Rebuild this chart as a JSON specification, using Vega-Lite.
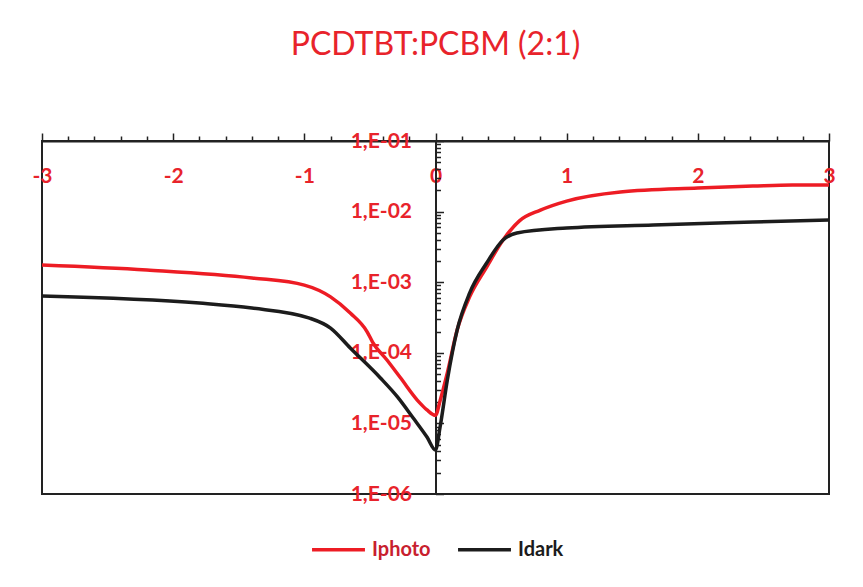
{
  "$schema": "https://vega.github.io/schema/vega-lite/v6.json",
  "autosize": "none",
  "width": 787,
  "height": 353,
  "padding": {"left": 42, "top": 141, "right": 34, "bottom": 93},
  "background": "white",
  "config": {
    "view": {"stroke": "#222222", "strokeWidth": 2},
    "font": "Lato"
  },
  "title": {
    "text": "PCDTBT:PCBM (2:1)",
    "fontSize": 32,
    "font": "Lato",
    "fontWeight": "normal",
    "color": "#e8232b",
    "anchor": "middle",
    "offset": 68
  },
  "data": {
    "values": [
      {"series": "Iphoto", "V": -3, "I": 1.75e-3},
      {"series": "Iphoto", "V": -2.2, "I": 1.49e-3},
      {"series": "Iphoto", "V": -1.4, "I": 1.15e-3},
      {"series": "Iphoto", "V": -1.0, "I": 9.1e-4},
      {"series": "Iphoto", "V": -0.8, "I": 6.2e-4},
      {"series": "Iphoto", "V": -0.65, "I": 3.66e-4},
      {"series": "Iphoto", "V": -0.52, "I": 1.97e-4},
      {"series": "Iphoto", "V": -0.48, "I": 1.42e-4},
      {"series": "Iphoto", "V": -0.37, "I": 7.9e-5},
      {"series": "Iphoto", "V": -0.27, "I": 4.5e-5},
      {"series": "Iphoto", "V": -0.12, "I": 1.95e-5},
      {"series": "Iphoto", "V": -0.065, "I": 1.55e-5},
      {"series": "Iphoto", "V": 0, "I": 1.3e-5},
      {"series": "Iphoto", "V": 0.035, "I": 2.1e-5},
      {"series": "Iphoto", "V": 0.09, "I": 5.2e-5},
      {"series": "Iphoto", "V": 0.165, "I": 2.1e-4},
      {"series": "Iphoto", "V": 0.26, "I": 6.2e-4},
      {"series": "Iphoto", "V": 0.39, "I": 1.64e-3},
      {"series": "Iphoto", "V": 0.515, "I": 3.96e-3},
      {"series": "Iphoto", "V": 0.64, "I": 7.4e-3},
      {"series": "Iphoto", "V": 0.8, "I": 1.05e-2},
      {"series": "Iphoto", "V": 1.0, "I": 1.41e-2},
      {"series": "Iphoto", "V": 1.41, "I": 1.9e-2},
      {"series": "Iphoto", "V": 2.0, "I": 2.16e-2},
      {"series": "Iphoto", "V": 2.42, "I": 2.3e-2},
      {"series": "Iphoto", "V": 2.72, "I": 2.38e-2},
      {"series": "Iphoto", "V": 3.0, "I": 2.38e-2},
      {"series": "Idark", "V": -3, "I": 6.4e-4},
      {"series": "Idark", "V": -1.8, "I": 5.07e-4},
      {"series": "Idark", "V": -1.4, "I": 4.3e-4},
      {"series": "Idark", "V": -0.96, "I": 3.1e-4},
      {"series": "Idark", "V": -0.8, "I": 2.24e-4},
      {"series": "Idark", "V": -0.65, "I": 1.17e-4},
      {"series": "Idark", "V": -0.42, "I": 4.4e-5},
      {"series": "Idark", "V": -0.29, "I": 2.37e-5},
      {"series": "Idark", "V": -0.17, "I": 1.19e-5},
      {"series": "Idark", "V": -0.065, "I": 6.4e-6},
      {"series": "Idark", "V": 0, "I": 4.2e-6},
      {"series": "Idark", "V": 0.035, "I": 8.9e-6},
      {"series": "Idark", "V": 0.09, "I": 4.1e-5},
      {"series": "Idark", "V": 0.165, "I": 2.1e-4},
      {"series": "Idark", "V": 0.26, "I": 7.0e-4},
      {"series": "Idark", "V": 0.39, "I": 1.87e-3},
      {"series": "Idark", "V": 0.515, "I": 3.96e-3},
      {"series": "Idark", "V": 0.62, "I": 4.98e-3},
      {"series": "Idark", "V": 1.0, "I": 5.86e-3},
      {"series": "Idark", "V": 1.66, "I": 6.46e-3},
      {"series": "Idark", "V": 2.42, "I": 7.1e-3},
      {"series": "Idark", "V": 3.0, "I": 7.6e-3}
    ]
  },
  "mark": {"type": "line", "strokeWidth": 3.5, "interpolate": "monotone"},
  "encoding": {
    "x": {
      "field": "V",
      "type": "quantitative",
      "scale": {"domain": [-3, 3], "nice": false, "zero": false},
      "axis": {
        "orient": "top",
        "title": null,
        "grid": false,
        "values": [-3, -2.8, -2.6, -2.4, -2.2, -2, -1.8, -1.6, -1.4, -1.2, -1, -0.8, -0.6, -0.4, -0.2, 0, 0.2, 0.4, 0.6, 0.8, 1, 1.2, 1.4, 1.6, 1.8, 2, 2.2, 2.4, 2.6, 2.8, 3],
        "labelExpr": "abs(datum.value - round(datum.value)) < 1e-6 ? '' + round(datum.value) : ''",
        "labelOverlap": false,
        "labelFlush": false,
        "labelBound": false,
        "labelFont": "Lato",
        "labelFontSize": 21,
        "labelFontWeight": "bold",
        "labelColor": "#e8232b",
        "labelBaseline": "top",
        "labelPadding": -32,
        "domainColor": "#222222",
        "domainWidth": 2,
        "tickColor": "#222222",
        "tickWidth": 1.5,
        "tickSize": {"condition": {"test": "abs(datum.value - round(datum.value)) < 1e-6", "value": 8}, "value": 5}
      }
    },
    "y": {
      "field": "I",
      "type": "quantitative",
      "scale": {"type": "log", "domain": [1e-6, 1e-1], "nice": false},
      "axis": {
        "orient": "left",
        "offset": -393.5,
        "title": null,
        "grid": false,
        "values": [1e-6, 2e-6, 3e-6, 4e-6, 5e-6, 6e-6, 7e-6, 8e-6, 9e-6, 1e-5, 2e-5, 3e-5, 4e-5, 5e-5, 6e-5, 7e-5, 8e-5, 9e-5, 1e-4, 2e-4, 3e-4, 4e-4, 5e-4, 6e-4, 7e-4, 8e-4, 9e-4, 1e-3, 2e-3, 3e-3, 4e-3, 5e-3, 6e-3, 7e-3, 8e-3, 9e-3, 1e-2, 2e-2, 3e-2, 4e-2, 5e-2, 6e-2, 7e-2, 8e-2, 9e-2, 1e-1],
        "labelExpr": "abs(log(datum.value)/LN10 - round(log(datum.value)/LN10)) < 1e-6 ? '1,E-0' + (-round(log(datum.value)/LN10)) : ''",
        "labelOverlap": false,
        "labelFlush": false,
        "labelBound": false,
        "labelFont": "Lato",
        "labelFontSize": 21,
        "labelFontWeight": "bold",
        "labelColor": "#e8232b",
        "labelBaseline": "middle",
        "labelPadding": 32,
        "domainColor": "#222222",
        "domainWidth": 2,
        "tickColor": "#222222",
        "tickWidth": 1.5,
        "tickSize": {"condition": {"test": "abs(log(datum.value)/LN10 - round(log(datum.value)/LN10)) < 1e-6", "value": -8}, "value": -5}
      }
    },
    "color": {
      "field": "series",
      "type": "nominal",
      "sort": ["Iphoto", "Idark"],
      "scale": {"domain": ["Iphoto", "Idark"], "range": ["#ed1c24", "#1c1c1c"]},
      "legend": {
        "title": null,
        "orient": "none",
        "direction": "horizontal",
        "legendX": 268,
        "legendY": 380,
        "symbolType": "stroke",
        "symbolSize": 2800,
        "symbolStrokeWidth": 3.5,
        "labelFont": "Lato",
        "labelFontSize": 20,
        "labelFontWeight": "bold",
        "labelOffset": 5,
        "columnPadding": 20,
        "encoding": {
          "labels": {
            "fill": {"condition": {"test": "datum.label === 'Iphoto'", "value": "#c8202e"}, "value": "#1c1c1c"}
          }
        }
      }
    },
    "order": {"field": "V", "type": "quantitative"}
  }
}
